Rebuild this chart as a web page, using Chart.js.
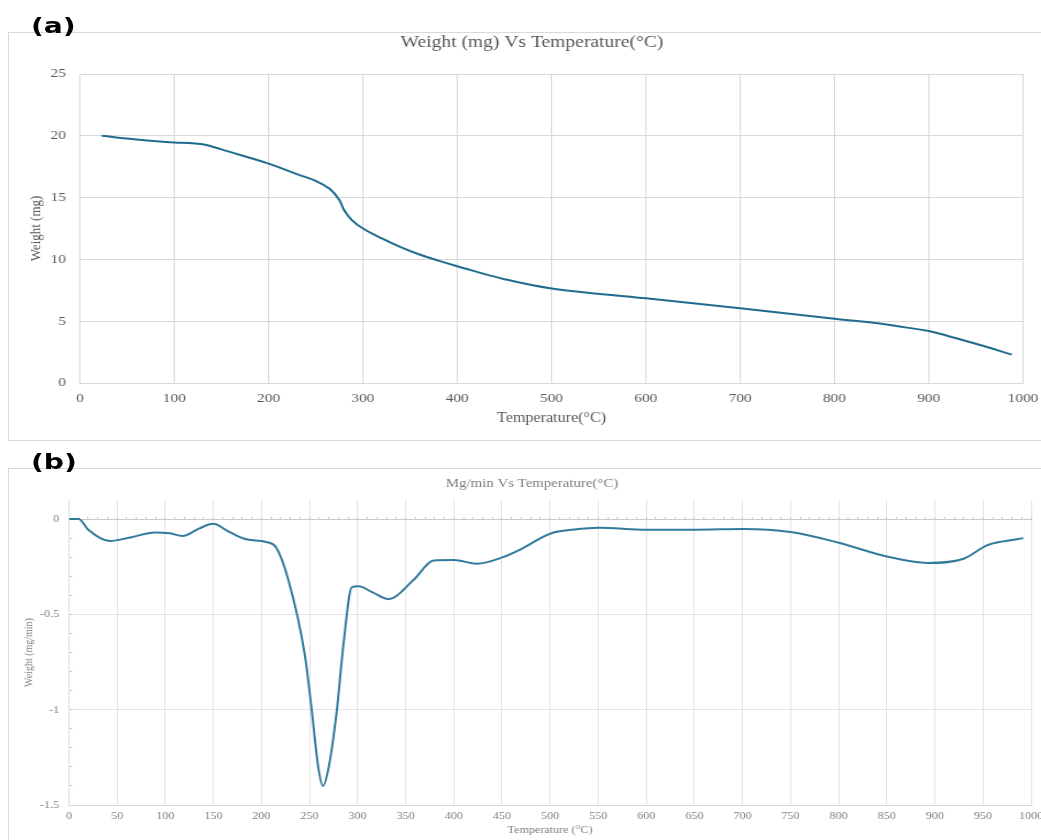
<!DOCTYPE html>
<html>
<head>
<meta charset="utf-8">
<title>TGA / DTG</title>
<script src="https://cdn.jsdelivr.net/npm/chart.js@4.4.1/dist/chart.umd.min.js"></script>
<style>
  html, body { margin: 0; padding: 0; background: #fff; }
  body { position: relative; width: 1041px; height: 840px; overflow: hidden; }
  .panel { position: absolute; box-sizing: border-box; border: 1px solid #d9d9d9; border-right: none; }
  .wrap { position: absolute; transform-origin: 0 0; }
  .wrap canvas { display: block; }
  .tag { position: absolute; font: bold 22px/22px 'DejaVu Sans', Verdana, sans-serif; color: #000;
         transform: scaleX(1.28); transform-origin: 0 0; white-space: nowrap; z-index: 2; }
</style>
</head>
<body>
<div class="panel" style="left:8px; top:32px; width:1040px; height:409px;"></div>
<div class="panel" style="left:8px; top:468px; width:1040px; height:400px;"></div>
<div class="tag" style="left:31px; top:15px;">(a)</div>
<div class="tag" style="left:31px; top:451px;">(b)</div>
<div class="wrap" style="left:8px; top:32px; transform: scaleX(1.1503);">
  <canvas id="tga" width="898" height="408"></canvas>
</div>
<div class="wrap" style="left:8px; top:468px; transform: scaleX(1.1001);">
  <canvas id="dtg" width="939" height="372"></canvas>
</div>
<script>
// TGA: sample weight against temperature
const tgaTemp   = [23, 60, 100, 115, 130, 150, 170, 200, 230, 250, 265, 275, 280, 288, 300, 320, 340, 360, 380, 400, 450, 500, 600, 700, 800, 850, 875, 900, 930, 960, 988];
const tgaWeight = [20.0, 19.7, 19.45, 19.42, 19.32, 18.9, 18.45, 17.75, 16.9, 16.35, 15.7, 14.8, 14.0, 13.2, 12.5, 11.7, 11.0, 10.4, 9.9, 9.45, 8.4, 7.65, 6.85, 6.05, 5.2, 4.8, 4.5, 4.2, 3.6, 2.95, 2.3];

// DTG: rate of weight change against temperature
const dtgTemp = [0, 10, 20, 42, 65, 89, 105, 118, 135, 150, 165, 183, 205, 215, 228, 245, 252, 259, 264, 270, 278, 285, 294, 301, 315, 332, 358, 379, 400, 424, 451, 469, 500, 525, 551, 600, 651, 701, 750, 800, 850, 892, 930, 954, 971, 992];
const dtgRate = [0, 0, -0.056, -0.115, -0.095, -0.07, -0.075, -0.089, -0.05, -0.025, -0.063, -0.105, -0.12, -0.147, -0.32, -0.71, -0.99, -1.30, -1.40, -1.30, -1.02, -0.67, -0.357, -0.353, -0.383, -0.42, -0.32, -0.217, -0.215, -0.234, -0.2, -0.16, -0.077, -0.055, -0.045, -0.056, -0.056, -0.052, -0.068, -0.124, -0.196, -0.23, -0.208, -0.138, -0.117, -0.1];

// axis ranges and tick steps
const tgaXTicks = { min: 0, max: 1000, step: 100 };
const tgaYTicks = { min: 0, max: 25, step: 5 };
const dtgXTicks = { min: 0, max: 1000, step: 50, minor: 10 };
const dtgYTicks = { min: -1.5, max: 0.1, step: 0.1, major: 0.5 };

const SERIF = "'Liberation Serif', 'Times New Roman', serif";

// draws a centred chart heading at a fixed spot inside the canvas
const panelTitle = {
  id: 'panelTitle',
  afterDraw(chart, args, o) {
    const ctx = chart.ctx;
    ctx.save();
    ctx.font = o.font;
    ctx.fillStyle = o.color;
    ctx.textAlign = 'center';
    ctx.textBaseline = 'alphabetic';
    ctx.fillText(o.text, o.x, o.y);
    ctx.restore();
  }
};

const toPoints = (xs, ys) => xs.map((x, i) => ({ x: x, y: ys[i] }));

// fixed axis band height; edge labels may overhang the plot margin
const fixXBand = h => s => { s.height = h; s.paddingLeft = 0; s.paddingRight = 0; };

new Chart(document.getElementById('tga'), {
  type: 'line',
  data: {
    datasets: [{
      data: toPoints(tgaTemp, tgaWeight),
      borderColor: '#1f6b8e',
      borderWidth: 2,
      pointRadius: 0,
      tension: 0.4,
      fill: false
    }]
  },
  options: {
    responsive: false,
    animation: false,
    events: [],
    layout: { padding: { top: 42, right: 15.6, left: 0, bottom: 0 } },
    plugins: {
      legend: { display: false },
      tooltip: { enabled: false },
      panelTitle: { text: 'Weight (mg) Vs Temperature(°C)', x: 455.5, y: 15.3, font: '17px ' + SERIF, color: '#595959' }
    },
    scales: {
      x: {
        type: 'linear', min: tgaXTicks.min, max: tgaXTicks.max,
        ticks: { stepSize: tgaXTicks.step, padding: 7.5, color: '#595959', font: { family: SERIF, size: 13.3 },
                 maxRotation: 0, autoSkip: false, callback: v => String(v) },
        grid: { color: '#d9d9d9', lineWidth: 1, drawTicks: false },
        border: { color: '#d9d9d9' },
        title: { display: true, text: 'Temperature(°C)', color: '#595959', font: { family: SERIF, size: 14 }, padding: { top: 0, bottom: 13.3 } },
        afterFit: fixXBand(57)
      },
      y: {
        type: 'linear', min: tgaYTicks.min, max: tgaYTicks.max,
        ticks: { stepSize: tgaYTicks.step, padding: 12.2, color: '#595959', font: { family: SERIF, size: 13.3 }, callback: v => String(v) },
        grid: { color: '#d9d9d9', lineWidth: 1, drawTicks: false },
        border: { color: '#d9d9d9' },
        title: { display: true, text: 'Weight (mg)', color: '#595959', font: { family: SERIF, size: 13 }, padding: { top: 16.5, bottom: 0 } },
        afterFit: s => { s.width = 62.6; }
      }
    }
  },
  plugins: [panelTitle]
});

const isMajor = v => Math.abs(v / dtgYTicks.major - Math.round(v / dtgYTicks.major)) < 1e-6;

new Chart(document.getElementById('dtg'), {
  type: 'line',
  data: {
    datasets: [{
      data: toPoints(dtgTemp, dtgRate),
      borderColor: '#317a9c',
      borderWidth: 2,
      pointRadius: 0,
      cubicInterpolationMode: 'monotone',
      fill: false,
      xAxisID: 'x',
      yAxisID: 'y'
    }]
  },
  options: {
    responsive: false,
    animation: false,
    events: [],
    layout: { padding: { top: 32, right: 9, left: 0, bottom: 0 } },
    plugins: {
      legend: { display: false },
      tooltip: { enabled: false },
      panelTitle: { text: 'Mg/min Vs Temperature(°C)', x: 476.4, y: 18.5, font: '13.5px ' + SERIF, color: '#7f7f7f' }
    },
    scales: {
      x: {
        type: 'linear', min: dtgXTicks.min, max: dtgXTicks.max,
        ticks: { stepSize: dtgXTicks.step, padding: 4.9, color: '#808080', font: { family: SERIF, size: 11 },
                 maxRotation: 0, autoSkip: false, callback: v => String(v) },
        grid: { color: '#e3e3e3', lineWidth: 1, drawTicks: false },
        border: { color: '#d9d9d9' },
        title: { display: true, text: 'Temperature (°C)', color: '#808080', font: { family: SERIF, size: 11 }, padding: { top: 0, bottom: 3.4 } },
        afterFit: fixXBand(35)
      },
      // zero line with minor marks every 10 °C
      zero: {
        type: 'linear', axis: 'x', position: { y: 0 }, min: dtgXTicks.min, max: dtgXTicks.max,
        ticks: { stepSize: dtgXTicks.minor, display: false },
        grid: { drawOnChartArea: false, drawTicks: true, tickLength: -3, tickColor: '#c8c8c8', lineWidth: 1 },
        border: { color: '#c8c8c8', width: 1 }
      },
      y: {
        type: 'linear', min: dtgYTicks.min, max: dtgYTicks.max,
        ticks: { stepSize: dtgYTicks.step, padding: 12, color: '#808080', font: { family: SERIF, size: 11 }, autoSkip: false,
                 callback: v => (isMajor(v) && v <= 0) ? String(Math.round(v * 10) / 10) : '' },
        grid: {
          lineWidth: 1, drawTicks: true, tickLength: -3,
          color: c => (c.tick && isMajor(c.tick.value) && c.tick.value < -0.01 && c.tick.value > -1.49) ? '#e3e3e3' : 'rgba(0,0,0,0)',
          tickColor: c => (c.tick && c.tick.value < 0.01) ? '#c8c8c8' : 'rgba(0,0,0,0)'
        },
        border: { color: '#d9d9d9' },
        title: { display: true, text: 'Weight (mg/min)', color: '#808080', font: { family: SERIF, size: 10 }, padding: { top: 13.4, bottom: 0 } },
        afterFit: s => { s.width = 55.45; }
      }
    }
  },
  plugins: [panelTitle]
});
</script>
</body>
</html>
